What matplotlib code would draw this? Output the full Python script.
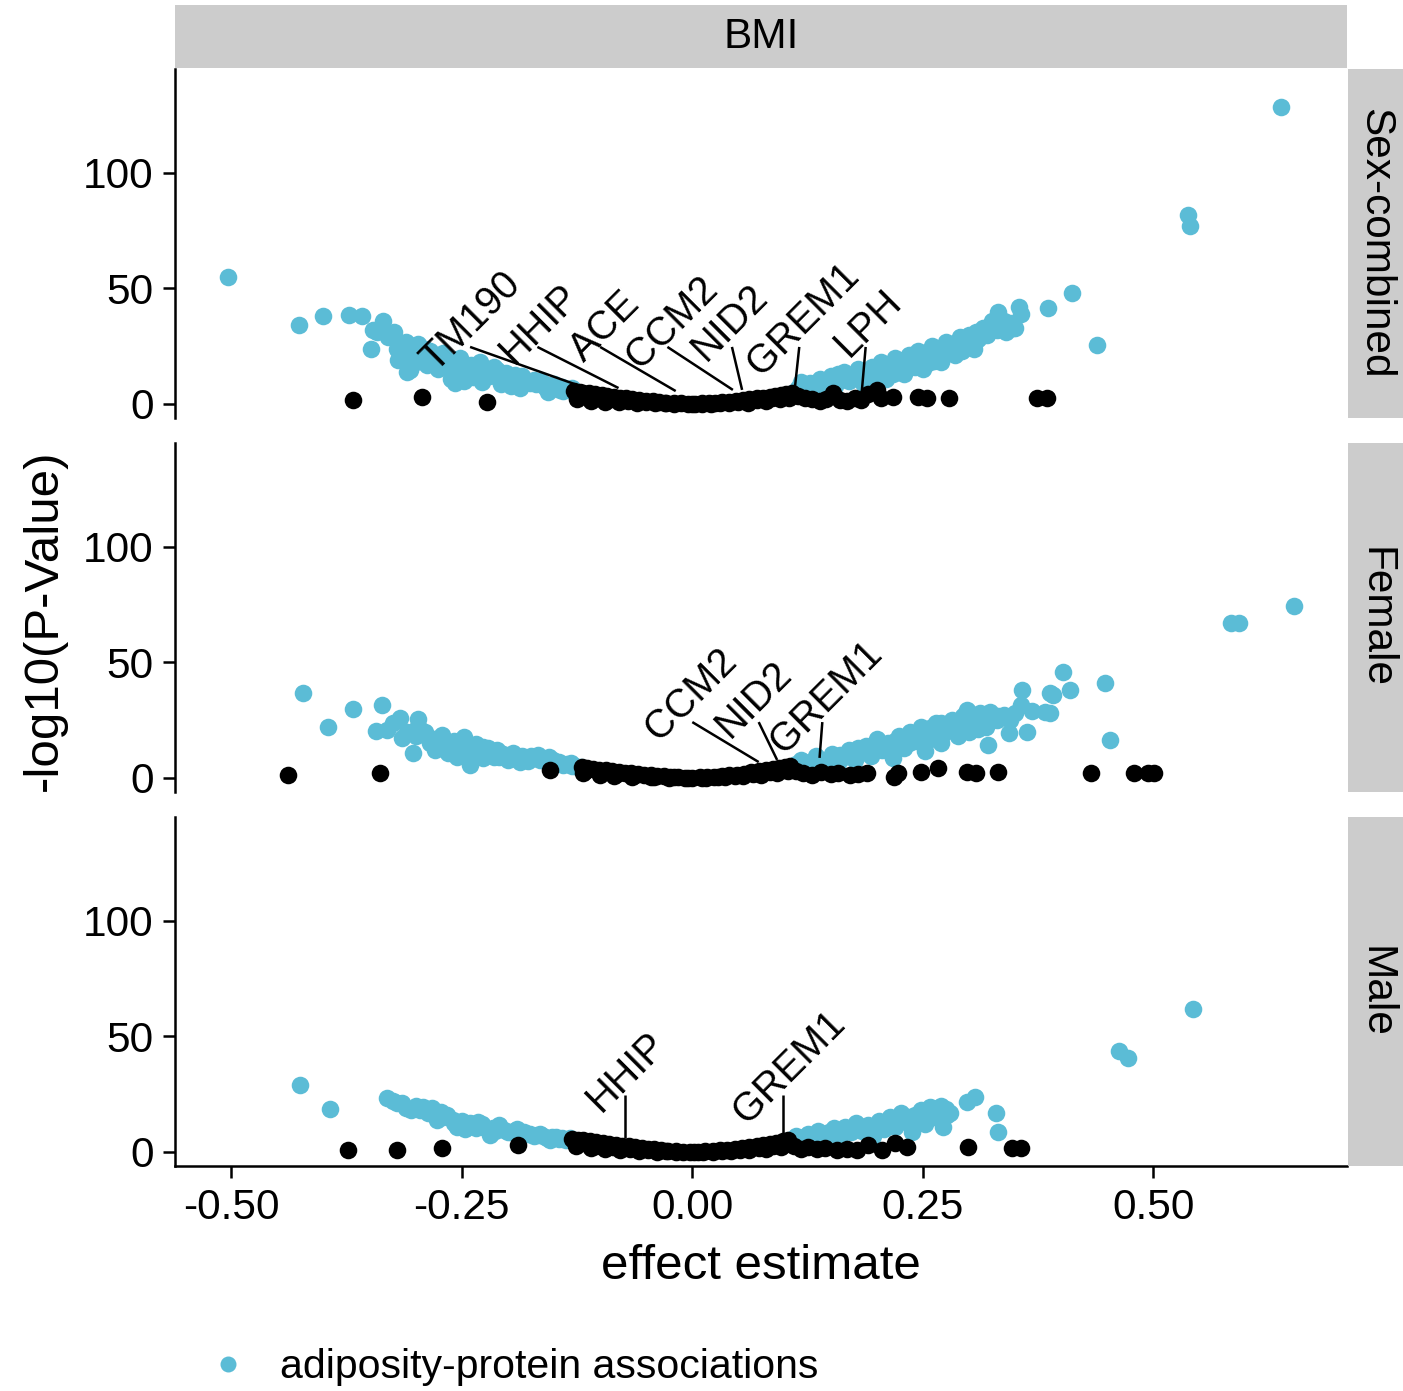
import matplotlib
matplotlib.use("Agg")
import matplotlib.pyplot as plt
from matplotlib.lines import Line2D

plt.rcParams["font.family"] = ["Liberation Sans", "DejaVu Sans"]
plt.rcParams["axes.unicode_minus"] = False

BLUE = "#5BBCD6"
GREY = "#CCCCCC"

# ---- data: (effect estimate, -log10 p) ----
sc_sig = [(-0.503, 55), (-0.426, 34), (-0.400, 38), (-0.372, 38.5), (-0.358, 38), (-0.335, 36),
          (-0.346, 32), (-0.348, 24), (-0.342, 31), (-0.330, 29), (-0.324, 31), (-0.318, 26),
          (-0.319, 19), (-0.309, 14), (-0.306, 14.7), (-0.315, 22), (-0.308, 20), (-0.298, 26),
          (-0.300, 18), (-0.292, 21), (-0.288, 17), (-0.284, 23), (-0.280, 20), (-0.276, 15),
          (-0.273, 19), (-0.268, 17), (-0.262, 14), (-0.262, 11), (-0.257, 9), (-0.255, 19),
          (-0.250, 16), (-0.248, 10), (-0.245, 13), (-0.240, 17), (-0.238, 11.5), (-0.235, 14),
          (-0.230, 18), (-0.228, 9.5), (-0.225, 15), (-0.220, 12), (-0.215, 16), (-0.212, 14.7),
          (-0.208, 8.5), (-0.205, 13), (-0.200, 11), (-0.197, 8), (-0.194, 11.7), (-0.190, 10),
          (-0.187, 7), (-0.185, 12), (-0.180, 9.5), (-0.176, 9), (-0.170, 8.5), (-0.165, 10),
          (-0.160, 7.5), (-0.157, 5.2), (-0.152, 7), (-0.148, 8), (-0.143, 6), (-0.140, 5.5),
          (-0.135, 6.5), (-0.131, 5.8), (-0.320, 24), (-0.310, 27), (-0.302, 22), (-0.290, 24),
          (-0.278, 18), (-0.270, 22), (-0.258, 17), (-0.252, 20), (-0.242, 15), (-0.232, 13),
          (-0.222, 14), (-0.210, 11), (-0.202, 13.5), (-0.192, 12.5), (-0.182, 11), (-0.172, 10.5),
          (-0.162, 9), (-0.150, 8.5), (-0.141, 7.5), (-0.130, 7),
          (0.110, 5), (0.115, 7), (0.118, 9.5), (0.125, 6.5), (0.128, 9), (0.135, 8), (0.138, 11),
          (0.145, 9.5), (0.150, 12), (0.155, 8), (0.160, 11), (0.165, 14), (0.170, 10), (0.175, 13),
          (0.180, 15), (0.185, 9), (0.190, 12), (0.195, 16), (0.200, 14), (0.205, 18), (0.210, 11),
          (0.215, 15), (0.220, 20), (0.225, 17), (0.230, 13), (0.235, 21), (0.240, 18), (0.245, 23),
          (0.250, 15), (0.255, 20), (0.260, 25), (0.265, 22), (0.270, 18), (0.275, 27), (0.280, 24),
          (0.285, 21), (0.290, 29), (0.295, 26), (0.300, 30), (0.305, 24), (0.310, 28), (0.315, 33),
          (0.320, 30), (0.325, 36), (0.330, 32), (0.335, 34), (0.340, 31), (0.345, 35), (0.348, 33),
          (0.350, 33), (0.331, 40), (0.354, 42), (0.356, 39), (0.386, 41.5), (0.412, 48),
          (0.439, 25.5), (0.538, 82), (0.540, 77), (0.638, 128.6),
          (0.120, 8), (0.140, 10), (0.158, 13), (0.172, 12), (0.182, 11), (0.192, 14), (0.202, 16),
          (0.212, 17), (0.218, 13), (0.228, 19), (0.238, 21), (0.248, 22), (0.258, 18), (0.268, 23),
          (0.278, 26), (0.288, 25), (0.298, 27), (0.308, 31), (0.318, 33), (0.328, 35), (0.338, 36),
          (0.302, 29), (0.292, 23), (0.282, 25), (0.262, 18.5), (0.252, 17), (0.242, 16), (0.232, 17),
          (0.222, 14), (0.198, 11.5), (0.178, 12.5), (0.168, 10.5)]
sc_ns = [(-0.368, 1.7), (-0.293, 3.0), (-0.223, 0.9),
         (-0.128, 5.5), (-0.122, 5.2), (-0.118, 4.9), (-0.112, 4.6), (-0.105, 4.2), (-0.098, 3.8),
         (-0.092, 3.4), (-0.085, 3.0), (-0.078, 2.7), (-0.072, 2.4), (-0.065, 2.0), (-0.058, 1.7),
         (-0.050, 1.4), (-0.043, 1.1), (-0.036, 0.8), (-0.028, 0.6), (-0.020, 0.4), (-0.012, 0.3),
         (-0.005, 0.2), (0.003, 0.2), (0.010, 0.3), (0.018, 0.4), (0.025, 0.6), (0.032, 0.8),
         (0.040, 1.0), (0.047, 1.3), (0.055, 1.6), (0.062, 2.0), (0.070, 2.4), (0.077, 2.8),
         (0.084, 3.2), (0.090, 3.6), (0.096, 4.0), (0.102, 4.4), (0.108, 4.8),
         (-0.125, 2.0), (-0.110, 1.5), (-0.095, 1.0), (-0.080, 0.8), (-0.060, 0.5), (-0.040, 0.3),
         (-0.020, 0.1), (0.000, 0.1), (0.020, 0.1), (0.040, 0.3), (0.060, 0.6), (0.080, 1.2),
         (0.095, 2.0), (0.105, 2.5),
         (-0.120, 3.6), (-0.102, 2.6), (-0.088, 2.0), (-0.070, 1.3), (-0.050, 0.8), (-0.030, 0.4),
         (0.010, 0.1), (0.030, 0.4), (0.050, 0.9), (0.070, 1.6), (0.086, 2.4), (0.100, 3.3),
         (0.115, 3.5), (0.122, 2.5), (0.130, 2.0), (0.138, 1.5), (0.145, 2.2), (0.153, 4.7),
         (0.160, 1.6), (0.168, 1.3), (0.176, 2.8), (0.183, 1.7), (0.190, 4.5), (0.200, 6.0),
         (0.205, 2.5), (0.218, 3.0), (0.245, 3.0), (0.255, 2.6), (0.278, 2.6), (0.374, 2.6),
         (0.385, 2.6)]

fe_sig = [(-0.422, 37), (-0.395, 22), (-0.368, 30), (-0.337, 31.6), (-0.343, 20.3), (-0.331, 20.8),
          (-0.317, 26), (-0.315, 17.3), (-0.297, 25.5), (-0.298, 22.5), (-0.303, 10.8), (-0.279, 12),
          (-0.271, 18.6), (-0.248, 17.7), (-0.255, 9), (-0.241, 5.6), (-0.227, 13.4), (-0.227, 8.7),
          (-0.212, 12), (-0.194, 10.8), (-0.187, 7), (-0.167, 10), (-0.151, 7.8), (-0.132, 6.5),
          (-0.121, 4.8), (-0.285, 15), (-0.262, 14), (-0.258, 16), (-0.250, 12), (-0.240, 11),
          (-0.235, 14.5), (-0.232, 10), (-0.220, 11), (-0.215, 9), (-0.205, 10.5), (-0.200, 8),
          (-0.182, 9), (-0.178, 7.5), (-0.172, 8.5), (-0.160, 8), (-0.156, 6.5), (-0.145, 7),
          (-0.140, 5.8), (-0.136, 6), (-0.127, 5.2), (-0.265, 11), (-0.309, 20), (-0.325, 24),
          (-0.300, 18), (-0.290, 20), (-0.280, 17), (-0.270, 15), (-0.260, 12), (-0.245, 14),
          (-0.230, 12), (-0.222, 13), (-0.210, 9), (-0.195, 8.5), (-0.185, 9.5), (-0.175, 9.5),
          (-0.165, 8), (-0.155, 9), (-0.148, 6), (-0.130, 5),
          (0.108, 4), (0.112, 6), (0.118, 8), (0.124, 3.5), (0.128, 7), (0.134, 9.5), (0.140, 5),
          (0.146, 8), (0.152, 10.5), (0.158, 6.5), (0.164, 9), (0.170, 12), (0.176, 8), (0.182, 11),
          (0.188, 14), (0.194, 9.5), (0.200, 17), (0.206, 12), (0.212, 15), (0.218, 8.5), (0.224, 18),
          (0.230, 13), (0.236, 20), (0.242, 16), (0.248, 22), (0.252, 11.5), (0.258, 19), (0.264, 24),
          (0.270, 15), (0.276, 21), (0.282, 25), (0.288, 18), (0.294, 27), (0.298, 29.4), (0.300, 20),
          (0.306, 24), (0.312, 28), (0.318, 22), (0.321, 14.3), (0.323, 28.6), (0.330, 25),
          (0.338, 27.3), (0.343, 19.5), (0.356, 31.6), (0.358, 38), (0.363, 20), (0.368, 29),
          (0.383, 28.5), (0.388, 37), (0.388, 28), (0.391, 36), (0.402, 46), (0.410, 38),
          (0.448, 41), (0.453, 16.5), (0.584, 67), (0.593, 67), (0.652, 74.5),
          (0.120, 5), (0.130, 6), (0.142, 7.5), (0.150, 9), (0.160, 10), (0.172, 9.5), (0.180, 13),
          (0.190, 12), (0.202, 14), (0.210, 13.5), (0.220, 16), (0.232, 17), (0.240, 18), (0.250, 20),
          (0.260, 22), (0.272, 19), (0.280, 23), (0.290, 24), (0.302, 25), (0.310, 26), (0.320, 25),
          (0.332, 27), (0.345, 25), (0.350, 28), (0.310, 21), (0.290, 20), (0.270, 24), (0.255, 16),
          (0.235, 15), (0.215, 11), (0.196, 12.5)]
fe_ns = [(-0.438, 1.3), (-0.339, 2.2), (-0.154, 3.5),
         (-0.120, 4.6), (-0.114, 4.3), (-0.108, 4.0), (-0.101, 3.6), (-0.094, 3.3), (-0.087, 3.0),
         (-0.080, 2.6), (-0.073, 2.3), (-0.066, 2.0), (-0.059, 1.7), (-0.052, 1.4), (-0.045, 1.1),
         (-0.038, 0.9), (-0.031, 0.7), (-0.024, 0.5), (-0.016, 0.3), (-0.008, 0.2), (0.000, 0.2),
         (0.008, 0.3), (0.016, 0.4), (0.024, 0.6), (0.032, 0.9), (0.040, 1.2), (0.048, 1.5),
         (0.056, 1.9), (0.064, 2.4), (0.072, 2.9), (0.080, 3.4), (0.087, 3.9), (0.094, 4.4),
         (0.100, 4.9), (0.106, 5.4),
         (-0.118, 2.0), (-0.100, 1.4), (-0.085, 1.0), (-0.065, 0.6), (-0.045, 0.3), (-0.025, 0.1),
         (-0.005, 0.0), (0.015, 0.1), (0.035, 0.3), (0.055, 0.7), (0.075, 1.4), (0.092, 2.2),
         (0.104, 3.0),
         (-0.116, 3.2), (-0.098, 2.4), (-0.082, 1.8), (-0.062, 1.2), (-0.042, 0.6), (-0.020, 0.3),
         (0.010, 0.1), (0.028, 0.4), (0.046, 0.9), (0.066, 1.6), (0.084, 2.5), (0.100, 3.6),
         (0.112, 3.0), (0.120, 2.0), (0.130, 1.5), (0.140, 2.5), (0.150, 1.8), (0.158, 2.2),
         (0.171, 1.3), (0.180, 1.8), (0.189, 2.2), (0.219, 0.5), (0.223, 2.2), (0.248, 2.6),
         (0.266, 4.3), (0.298, 2.6), (0.308, 2.2), (0.331, 2.6), (0.432, 2.2), (0.479, 2.2),
         (0.494, 2.2), (0.501, 2.2)]

ma_sig = [(-0.425, 29), (-0.393, 18.6), (-0.331, 23.4), (-0.320, 21), (-0.311, 19), (-0.292, 19.5),
          (-0.282, 19), (-0.277, 14), (-0.266, 16), (-0.255, 11), (-0.241, 12.5), (-0.227, 11),
          (-0.219, 7.4), (-0.210, 11.7), (-0.197, 8.7), (-0.183, 8.7), (-0.168, 7.4), (-0.154, 5.2),
          (-0.141, 6), (-0.133, 6), (-0.325, 22), (-0.305, 18), (-0.300, 20), (-0.287, 17),
          (-0.272, 17.5), (-0.260, 14), (-0.250, 13.5), (-0.246, 10), (-0.235, 10.5), (-0.232, 13),
          (-0.222, 10), (-0.214, 9), (-0.204, 9.5), (-0.190, 10), (-0.186, 7.5), (-0.176, 8),
          (-0.172, 6.8), (-0.162, 7), (-0.158, 6.2), (-0.148, 6.5), (-0.145, 5.5), (-0.137, 5.3),
          (-0.315, 21), (-0.295, 18), (-0.280, 16.5), (-0.270, 15), (-0.258, 12.5), (-0.245, 12),
          (-0.238, 11.5), (-0.228, 12), (-0.216, 10.5), (-0.200, 8.5), (-0.193, 9), (-0.178, 7.8),
          (-0.165, 7.6), (-0.152, 6.3), (-0.140, 5.5),
          (0.105, 5), (0.112, 7), (0.118, 4.5), (0.125, 8), (0.130, 6), (0.136, 9), (0.142, 5.5),
          (0.148, 8.5), (0.154, 10.5), (0.160, 7), (0.166, 11), (0.172, 8.5), (0.178, 12.5),
          (0.184, 9), (0.190, 11.5), (0.196, 7), (0.202, 13.5), (0.208, 10), (0.214, 15), (0.220, 11),
          (0.226, 17), (0.232, 13), (0.238, 8.5), (0.242, 16), (0.248, 18), (0.252, 12), (0.258, 19.5),
          (0.262, 15), (0.268, 17.5), (0.272, 11), (0.276, 16), (0.280, 17), (0.298, 21.6),
          (0.307, 24), (0.329, 17), (0.331, 8.7), (0.463, 43.7), (0.472, 40.7), (0.543, 62),
          (0.115, 6), (0.122, 6.5), (0.140, 7.5), (0.150, 7), (0.163, 8.5), (0.170, 10), (0.180, 10.5),
          (0.188, 9.5), (0.200, 11), (0.210, 12.5), (0.218, 13), (0.224, 14), (0.235, 15), (0.245, 14),
          (0.255, 16.5), (0.265, 17), (0.270, 20), (0.275, 18.5), (0.260, 19), (0.250, 17)]
ma_ns = [(-0.373, 1.0), (-0.320, 1.0), (-0.271, 1.7), (-0.189, 3.0),
         (-0.130, 5.8), (-0.124, 5.4), (-0.118, 5.0), (-0.111, 4.6), (-0.104, 4.2), (-0.097, 3.8),
         (-0.090, 3.4), (-0.083, 3.0), (-0.076, 2.7), (-0.069, 2.4), (-0.062, 2.0), (-0.055, 1.7),
         (-0.048, 1.4), (-0.041, 1.1), (-0.034, 0.8), (-0.026, 0.6), (-0.018, 0.4), (-0.010, 0.2),
         (-0.002, 0.2), (0.006, 0.2), (0.014, 0.3), (0.022, 0.5), (0.030, 0.7), (0.038, 1.0),
         (0.046, 1.3), (0.054, 1.7), (0.062, 2.1), (0.070, 2.6), (0.077, 3.1), (0.084, 3.6),
         (0.091, 4.1), (0.098, 4.6), (0.104, 5.1),
         (-0.126, 2.5), (-0.110, 1.8), (-0.095, 1.2), (-0.078, 0.8), (-0.058, 0.5), (-0.038, 0.2),
         (-0.018, 0.0), (0.002, 0.0), (0.022, 0.1), (0.042, 0.3), (0.062, 0.7), (0.080, 1.3),
         (0.096, 2.2),
         (-0.120, 3.8), (-0.104, 2.8), (-0.086, 2.1), (-0.068, 1.4), (-0.048, 0.8), (-0.028, 0.4),
         (0.012, 0.1), (0.032, 0.4), (0.052, 0.9), (0.072, 1.7), (0.088, 2.6), (0.102, 3.6),
         (0.110, 2.5), (0.118, 1.5), (0.126, 2.0), (0.135, 1.2), (0.144, 1.8), (0.157, 1.0),
         (0.168, 1.5), (0.179, 1.0), (0.190, 3.0), (0.206, 1.0), (0.220, 3.9), (0.233, 2.0),
         (0.299, 2.0), (0.347, 1.7), (0.356, 1.7)]

# labelled proteins: name, text anchor (x, y), segment start (x, y), segment end (x, y)
sc_labels = [("TM190", (-0.279, 13.5), (-0.241, 24.7), (-0.119, 7.4)),
             ("HHIP", (-0.194, 16.9), (-0.168, 24.7), (-0.080, 6.9)),
             ("ACE", (-0.118, 17.8), (-0.100, 24.7), (-0.018, 5.6)),
             ("CCM2", (-0.057, 14.8), (-0.027, 24.7), (0.044, 6.1)),
             ("NID2", (0.015, 18.2), (0.043, 24.7), (0.054, 6.1)),
             ("GREM1", (0.075, 11.8), (0.116, 24.7), (0.111, 6.1)),
             ("LPH", (0.170, 20.0), (0.188, 24.7), (0.183, 1.7))]
fe_labels = [("CCM2", (-0.036, 15.6), (0.000, 24.2), (0.072, 6.9)),
             ("NID2", (0.041, 16.9), (0.072, 24.2), (0.092, 7.8)),
             ("GREM1", (0.099, 10.0), (0.141, 24.2), (0.138, 8.7))]
ma_labels = [("HHIP", (-0.099, 16.9), (-0.073, 24.7), (-0.073, 6.1)),
             ("GREM1", (0.059, 11.8), (0.098, 24.7), (0.098, 8.2))]

strata = ["Sex-combined", "Female", "Male"]
sig_sets = [sc_sig, fe_sig, ma_sig]
ns_sets = [sc_ns, fe_ns, ma_ns]
label_sets = [sc_labels, fe_labels, ma_labels]
x_ticks = [-0.50, -0.25, 0.00, 0.25, 0.50]
x_ticklabels = ["-0.50", "-0.25", "0.00", "0.25", "0.50"]
y_ticks = [0, 50, 100]

W, H = 1403, 1391
fig = plt.figure(figsize=(W / 100, H / 100), dpi=100)
left, right = 175, 1347
tops, bots = [69, 443, 817], [418, 792, 1166]
FS = 30.5
LAB_FS = 28.5

for i, name in enumerate(strata):
    ax = fig.add_axes([left / W, 1 - bots[i] / H, (right - left) / W, (bots[i] - tops[i]) / H])
    sig, ns = sig_sets[i], ns_sets[i]
    ax.scatter([p[0] for p in sig], [p[1] for p in sig], s=160, color=BLUE, lw=0, zorder=2)
    ax.scatter([p[0] for p in ns], [p[1] for p in ns], s=160, color="black", lw=0, zorder=3)
    for lab, (tx, ty), (sx0, sy0), (sx1, sy1) in label_sets[i]:
        ax.plot([sx0, sx1], [sy0, sy1], color="black", lw=1.8, zorder=4, solid_capstyle="butt")
        ax.text(tx, ty, lab, rotation=45, rotation_mode="anchor", ha="left", va="baseline",
                fontsize=LAB_FS, zorder=5)
    ax.set_xlim(-0.561, 0.710)
    ax.set_ylim(-6.06, 145)
    ax.set_yticks(y_ticks)
    ax.set_xticks(x_ticks)
    for s in ["top", "right"]:
        ax.spines[s].set_visible(False)
    ax.spines["left"].set_linewidth(1.8)
    ax.spines["bottom"].set_linewidth(1.8)
    ax.tick_params(axis="both", length=8.5, width=1.8, labelsize=FS, pad=7, colors="black")
    if i < 2:
        ax.spines["bottom"].set_visible(False)
        ax.tick_params(axis="x", bottom=False, labelbottom=False)
    else:
        ax.set_xticklabels(x_ticklabels)
        ax.set_xlabel("effect estimate", fontsize=35.5, labelpad=12)
    # right strip
    sax = fig.add_axes([(right + 1) / W, 1 - bots[i] / H, (W - right - 1) / W, (bots[i] - tops[i]) / H])
    sax.set_facecolor(GREY)
    sax.set_xticks([]); sax.set_yticks([])
    for s in sax.spines.values():
        s.set_visible(False)
    sax.text(0.5, 0.5, name, rotation=270, ha="center", va="center", fontsize=FS,
             transform=sax.transAxes)

# top strip
tax = fig.add_axes([left / W, 1 - 68 / H, (right - left) / W, 63 / H])
tax.set_facecolor(GREY)
tax.set_xticks([]); tax.set_yticks([])
for s in tax.spines.values():
    s.set_visible(False)
tax.text(0.5, 0.5, "BMI", ha="center", va="center", fontsize=FS, transform=tax.transAxes)

fig.text(44 / W, 1 - 620 / H, "-log10(P-Value)", rotation=90, ha="center", va="center", fontsize=35.5)

handle = Line2D([0], [0], marker="o", ls="none", color=BLUE, markersize=11.5, markeredgewidth=0)
fig.legend(handles=[handle], labels=["adiposity-protein associations"], loc="center left",
           bbox_to_anchor=(208 / W, 1 - 1367 / H), frameon=False, fontsize=29.5,
           handlelength=1.0, handletextpad=0.75, borderpad=0, borderaxespad=0)

fig.savefig("out.png", dpi=100)
